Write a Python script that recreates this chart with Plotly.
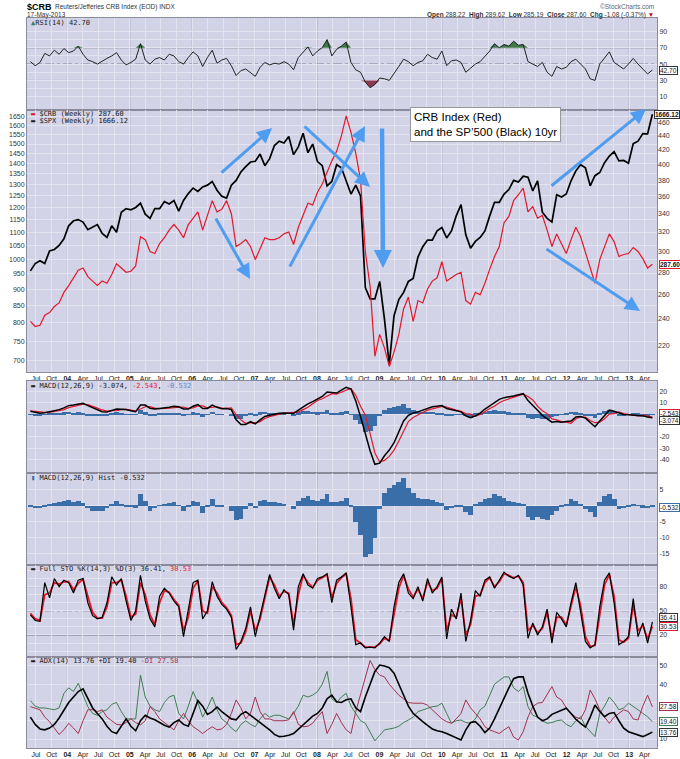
import numpy as np
import pandas as pd
import plotly.graph_objects as go

# ---------------- data: 4-weekly samples ----------------
dates = pd.date_range("2003-05-30", periods=131, freq="28D")

spx = [960, 985, 995, 985, 1030, 1035, 1050, 1075,
       1125, 1145, 1150, 1140, 1110, 1120, 1130, 1095, 1080, 1125, 1100, 1180, 1195,
       1190, 1200, 1218, 1172, 1155, 1195, 1195, 1225, 1215, 1230, 1185, 1230, 1260,
       1285, 1270, 1290, 1298, 1315, 1275, 1248, 1240, 1298, 1320, 1360, 1385, 1408,
       1412, 1448, 1390, 1425, 1492, 1515, 1505, 1540, 1445, 1485, 1558, 1455, 1500,
       1410, 1390, 1295, 1315, 1395, 1380, 1320, 1258, 1298, 1250, 905, 870, 870,
       925, 810, 690, 820, 868, 890, 925, 935, 1008, 1045, 1070, 1070, 1105,
       1118, 1078, 1105, 1165, 1212, 1090, 1040, 1065, 1080, 1105, 1165, 1222, 1222, 1258,
       1278, 1320, 1312, 1340, 1335, 1272, 1318, 1180, 1155, 1140, 1255, 1245, 1258,
       1318, 1365, 1395, 1380, 1295, 1342, 1357, 1405, 1438, 1460, 1414, 1416, 1402,
       1502, 1515, 1556, 1555, 1666.12]

crb = [238, 234, 235, 243, 245, 250, 253, 262,
       268, 275, 282, 284, 276, 272, 268, 272, 270, 278, 288, 284, 280,
       281, 286, 315, 312, 300, 298, 308, 314, 322, 328, 322, 314, 328,
       335, 342, 322, 338, 355, 342, 345, 355, 340, 305, 308, 312, 305,
       292, 302, 314, 312, 312, 314, 318, 320, 307, 325, 338, 352, 350,
       365, 375, 390, 405, 418, 440, 470, 445, 415, 380, 300, 267, 212,
       228, 218, 205, 215, 228, 248, 258, 238, 255, 253, 265, 272, 275,
       290, 272, 275, 278, 280, 255, 252, 262, 260, 270, 283, 295, 305, 330,
       337, 355, 362, 370, 342, 348, 335, 338, 322, 305, 318, 308, 298,
       312, 325, 315, 300, 285, 270, 292, 305, 318, 310, 295, 297, 298,
       304, 300, 293, 284, 287.60]

rsi = [53, 48, 52, 63, 60, 67, 62, 69,
       64, 66, 72, 62, 55, 53, 50, 54, 57, 60, 64, 55, 49,
       52, 56, 75, 55, 50, 56, 58, 55, 62, 60, 53, 50, 58,
       65, 60, 47, 58, 67, 51, 55, 57, 48, 36, 42, 44, 40,
       35, 46, 52, 49, 51, 50, 53, 50, 43, 58, 65, 71, 60,
       66, 70, 80, 60, 68, 72, 77, 52, 43, 40, 28, 21, 25,
       33, 32, 30, 38, 47, 56, 53, 48, 52, 54, 62, 58, 56,
       66, 48, 54, 55, 52, 40, 45, 50, 53, 60, 66, 75, 70, 74,
       72, 78, 73, 74, 53, 50, 47, 52, 40, 35, 47, 44, 46,
       53, 56, 50, 44, 32, 30, 50, 58, 65, 52, 48, 44, 50,
       57, 50, 44, 38, 42.70]

macd = [2.5, 1.5, 0.8, 1.2, 2.0, 3.0, 4.0, 5.5,
        7.5, 8.0, 9.0, 9.5, 7.5, 5.5, 3.5, 2.2, 2.0, 3.5, 4.5, 4.3, 4.0,
        3.0, 2.2, 8.0, 8.0, 5.2, 4.5, 5.0, 5.2, 6.0, 7.0, 6.5, 4.5, 4.5,
        7.0, 8.5, 5.0, 5.0, 8.0, 6.0, 4.8, 5.0, 4.0, -5.0, -9.0, -9.0, -6.6,
        -8.5, -5.0, -2.0, -1.0, 0.0, 0.8, 1.0, 1.0, 0.5, 3.5, 6.5, 9.0, 11.0,
        13.5, 15.5, 19.5, 19.0, 18.5, 21.0, 23.5, 22.0, 11.5, -2.0, -17.0, -32.0, -44.0,
        -43.0, -36.5, -31.5, -25.0, -16.0, -6.0, -1.0, 1.0, 2.0, 3.5, 5.5, 6.5, 7.0,
        7.5, 5.0, 4.0, 3.0, 2.0, -1.5, -3.0, -1.5, 1.0, 4.5, 7.5, 10.5, 13.0, 14.5,
        15.0, 16.0, 17.0, 18.0, 12.0, 8.0, 3.5, -1.0, -4.0, -7.0, -6.5, -7.0, -6.5,
        -6.0, -2.5, -2.0, -3.5, -7.5, -11.0, -6.0, -1.0, 3.5, 2.5, 1.0, -0.2, -0.5,
        -0.8, -1.2, -1.5, -2.5, -3.074]

macd_signal = [3.0, 2.3, 1.6, 1.5, 1.5, 2.2, 3.0, 4.0,
               5.7, 6.8, 7.5, 8.7, 8.3, 7.0, 5.3, 3.7, 2.8, 3.0, 3.0, 4.0, 4.2,
               3.5, 2.8, 4.5, 6.5, 6.7, 5.3, 4.8, 4.9, 5.2, 5.8, 6.3, 6.3, 5.0,
               5.5, 7.3, 7.2, 5.5, 5.8, 6.5, 5.3, 5.0, 5.5, -0.5, -5.0, -8.0, -7.4,
               -7.7, -6.5, -3.8, -2.2, -1.0, 0.0, 0.7, 1.0, 1.5, 2.0, 4.0, 6.0, 9.2,
               12.0, 13.5, 16.0, 18.0, 17.5, 19.5, 21.0, 22.5, 16.5, 7.0, -1.0, -17.0, -34.0,
               -42.0, -40.5, -37.0, -31.5, -23.5, -14.5, -6.5, -2.9, -0.5, 1.5, 3.5, 4.7, 5.8,
               6.7, 6.3, 4.8, 3.5, 2.5, 0.5, 0.0, -2.0, -0.2, 2.5, 5.0, 7.0, 10.0, 12.0,
               13.5, 15.0, 16.2, 17.5, 15.5, 12.5, 7.0, 3.0, 0.5, -4.2, -5.0, -6.5, -7.0,
               -8.0, -4.0, -2.5, -2.5, -5.5, -7.5, -7.0, -4.0, 0.0, 0.5, 2.0, 0.6, -0.1,
               -1.1, -1.4, -0.9, -1.7, -2.543]

macd_hist = [-0.5, -0.8, -0.8, -0.3, 0.5, 0.8, 1.0, 1.5,
             1.8, 1.2, 1.5, 0.8, -0.8, -1.5, -1.8, -1.5, -0.8, 0.5, 1.5, 0.3, -0.2,
             -0.5, -0.6, 3.5, 1.5, -1.5, -0.8, 0.2, 0.3, 0.8, 1.2, 0.2, -1.8, -0.5,
             1.5, 1.2, -2.2, -0.5, 2.2, -0.5, -0.5, 0.0, -1.5, -4.5, -4.0, -1.0, 0.8,
             -0.8, 1.5, 1.8, 1.2, 1.0, 0.8, 0.3, 0.0, -1.0, 1.5, 2.5, 3.0, 1.8,
             1.5, 2.0, 3.5, 1.0, 1.0, 1.5, 2.5, -0.5, -5.0, -9.0, -16.0, -15.0, -10.0,
             -1.0, 4.0, 5.5, 6.5, 7.5, 8.5, 5.5, 3.9, 2.5, 2.0, 2.0, 1.8, 1.2,
             0.8, -1.3, -0.8, -0.5, -0.5, -2.0, -3.0, 0.5, 1.2, 2.0, 2.5, 3.5, 3.0, 2.5,
             1.5, 1.0, 0.8, 0.5, -3.5, -4.5, -3.5, -4.0, -4.5, -2.8, -1.5, -0.5, 0.5,
             2.0, 1.5, 0.5, -1.0, -2.0, -3.5, 1.0, 3.0, 3.5, 2.0, -1.0, -0.8, -0.4,
             0.3, 0.2, -0.6, -0.8, -0.532]

sto_k = [45, 38, 37, 85, 66, 90, 80, 88,
         85, 72, 88, 90, 60, 44, 40, 42, 60, 92, 82, 90, 62,
         38, 50, 94, 62, 40, 30, 68, 78, 72, 62, 55, 18, 50,
         85, 88, 40, 50, 86, 68, 58, 52, 42, 2, 12, 28, 55,
         18, 45, 72, 95, 78, 65, 76, 70, 26, 80, 96, 82, 78,
         90, 92, 96, 60, 88, 92, 97, 55, 8, 10, 4, 5, 4,
         10, 18, 12, 55, 85, 96, 72, 65, 80, 62, 90, 72, 80,
         92, 15, 52, 40, 72, 12, 38, 75, 68, 88, 92, 78, 88, 98,
         93, 90, 94, 82, 16, 35, 20, 30, 52, 10, 48, 40, 30,
         60, 85, 50, 12, 4, 8, 55, 88, 97, 60, 8, 12, 18,
         65, 18, 35, 10, 36.41]

sto_d = [47, 40, 38, 70, 72, 85, 83, 86,
         86, 76, 84, 89, 68, 48, 41, 41, 55, 85, 85, 88, 68,
         42, 46, 85, 70, 45, 33, 60, 75, 73, 64, 57, 25, 42,
         78, 87, 50, 47, 80, 72, 60, 54, 44, 8, 10, 24, 50,
         25, 40, 66, 92, 82, 68, 74, 72, 32, 70, 94, 85, 79,
         88, 91, 95, 66, 84, 91, 96, 65, 14, 10, 5, 5, 5,
         9, 16, 13, 45, 78, 94, 77, 67, 77, 65, 86, 75, 78,
         90, 25, 45, 42, 66, 20, 33, 68, 70, 85, 91, 80, 86, 96,
         94, 91, 93, 85, 25, 32, 23, 28, 48, 16, 42, 42, 32,
         55, 80, 56, 18, 6, 7, 45, 82, 95, 68, 14, 11, 16,
         58, 25, 32, 15, 30.53]

adx = [22, 18, 15.5, 15, 16, 18, 21.5, 26,
       30, 33, 36, 37.5, 32, 27, 24, 21, 17, 14, 13, 17, 21,
       17, 14.5, 20, 23, 21.5, 20.5, 19, 17.5, 16.5, 19, 20.4, 18, 17,
       24, 31, 28, 23.5, 25, 27.5, 25, 23, 21, 20.5, 23.5, 25, 23,
       21.5, 19, 17.5, 15, 12.5, 11.3, 11.5, 12, 13, 15.5, 17.7, 20, 22.5,
       24, 27, 32, 34, 30.4, 30, 31.5, 32, 27, 25, 33, 40, 47,
       50.5, 50, 49, 46, 40, 34, 28, 24, 21.5, 19.5, 17.5, 15.5, 14.5,
       14, 13, 11.8, 10.5, 9.5, 15, 19, 19.5, 17, 13.5, 16, 21, 27, 33,
       38, 43, 44, 44, 35, 28, 22, 20, 21, 23.5, 24.5, 25.5, 26.8,
       24, 20.8, 18.5, 16.5, 22, 28.6, 25, 22.2, 24, 24.5, 20, 15.9, 14,
       13, 12, 11.3, 12.5, 13.76]

plus_di = [31, 28, 27, 27, 26.5, 26, 27, 35,
           38, 36, 40.5, 34, 27.7, 24, 23, 25, 26, 29, 30, 25, 21,
           21, 21, 45, 33, 28, 26, 25, 30, 33, 34, 24, 21, 28,
           36, 30, 22, 27, 33, 26, 21, 19, 16, 14, 18, 20, 18,
           16.7, 21, 24, 22, 23, 23, 22, 21, 24, 28, 34, 33, 34,
           36, 40, 47, 32, 30, 33, 35, 28, 24, 20, 18.6, 14, 9,
           12, 15, 15.5, 16, 17, 19, 20.4, 22, 25, 26, 27, 27.7, 28,
           29.6, 24, 18.6, 20, 20.4, 19, 18.6, 21, 26, 28, 34, 40, 42, 44,
           44, 38, 36, 38.7, 27.7, 23, 22, 20, 18.6, 19, 20, 20.4, 18,
           16.7, 20, 22.2, 17, 14, 11.3, 24, 28, 33, 30, 26, 27, 29.6,
           28, 26, 24, 22.2, 19.40]

minus_di = [27.7, 27, 26, 22, 19.5, 16, 12.5, 15,
            18.6, 16, 13, 20, 26, 26, 25, 26, 22, 20, 18, 17.7, 19,
            21, 19, 17.7, 20, 27.7, 25, 21, 19, 17, 15, 20, 24, 20,
            16.7, 15, 13, 15, 16.7, 15, 15.5, 18, 24, 31.4, 27, 21, 24,
            33, 25, 21, 21, 20, 20, 20, 20.5, 25, 18, 16.7, 17, 18.6,
            22, 25, 13, 18, 24, 19, 15, 13, 25, 34, 44, 53, 48,
            45, 44, 40, 37, 34, 32, 30, 29.6, 29.6, 29.6, 28.5, 26, 23,
            21, 19.5, 18.6, 21, 24, 31.4, 27, 24, 21, 16.7, 15, 14, 13, 15,
            16.7, 11, 9.5, 14, 22, 27.7, 29.6, 30, 34, 38.7, 33, 31.4, 27,
            24, 22, 21, 26, 36.8, 32, 26, 22, 18.6, 22, 24, 26, 25,
            21, 20.4, 28, 34, 27.58]

spx_ticks = list(range(700, 1651, 50))
crb_ticks = list(range(220, 461, 20))

# ---------------- geometry / style ----------------
W, H = 680, 759
L, R, T, B = 27, 657, 18, 748


def fx(px):
    return (px - L) / (R - L)


def fy(py):
    return (B - py) / (B - T)


BG = "#d3d3e7"
GRID = "#e4e4f0"
YEARLINE = "#a6a6be"
BORDER = "#8a8a9a"
RED = "#e3182b"
HBLUE = "#3a6ea8"
GREEN = "#3e7e52"
MAROON = "#a3304f"
ARROW = "#4f9df0"
MONO = "DejaVu Sans Mono, monospace"
SANS = "Liberation Sans, Arial, sans-serif"

panels = {"rsi": (18, 110), "price": (110, 372), "macd": (381, 473),
          "hist": (473, 565), "sto": (565, 657), "adx": (657, 748)}


def ydom(key):
    top, bot = panels[key]
    return [fy(bot), fy(top)]


quarters = pd.date_range("2003-07-01", "2013-04-01", freq="QS")
qlabels = [f"<b>{d.year % 100:02d}</b>" if d.month == 1 else d.strftime("%b") for d in quarters]
years = pd.date_range("2004-01-01", "2013-01-01", freq="YS")
xr = ["2003-05-10", "2013-06-13"]

layout = dict(
    width=W, height=H,
    margin=dict(l=L, r=W - R, t=T, b=H - B, autoexpand=False),
    paper_bgcolor="white", plot_bgcolor=BG, showlegend=False,
    font=dict(family=SANS, size=7, color="#222"),
    bargap=0,
)

xnames = ["x", "x2", "x3", "x4", "x5", "x6"]
ynames = ["y", "y2", "y4", "y5", "y6", "y7"]
keys = ["rsi", "price", "macd", "hist", "sto", "adx"]

for xn, yn, key in zip(xnames, ynames, keys):
    axk = "xaxis" + xn[1:]
    d = dict(domain=[0, 1], anchor=yn, range=xr, type="date",
             tickvals=quarters, ticktext=qlabels,
             showticklabels=key in ("price", "adx"), ticks="",
             showgrid=True, gridcolor=GRID, gridwidth=1,
             showline=True, mirror=True, linecolor=BORDER, linewidth=1,
             zeroline=False, tickfont=dict(size=7, color="#222", family=SANS),
             fixedrange=True)
    if xn != "x":
        d["matches"] = "x"
    layout[axk] = d

common = dict(showline=True, mirror=True, linecolor=BORDER, linewidth=1,
              zeroline=False, ticks="", gridcolor=GRID, gridwidth=1,
              tickfont=dict(size=7, color="#333", family=SANS), fixedrange=True)


def lab(vals, shown):
    return [str(v) if v in shown else "" for v in vals]


rsi_t = list(range(10, 100, 10))
layout["yaxis"] = dict(domain=ydom("rsi"), anchor="x", side="right",
                       range=[-6.2, 106.4], tickvals=rsi_t,
                       ticktext=lab(rsi_t, (10, 30, 50, 70, 90)), **common)
layout["yaxis2"] = dict(domain=ydom("price"), anchor="x2", side="left", type="log",
                        range=[2.8278, 3.2281], tickvals=spx_ticks,
                        ticktext=[str(v) for v in spx_ticks], **common)
layout["yaxis3"] = dict(overlaying="y2", anchor="x2", side="right", type="log",
                        range=[2.3038, 2.6806], tickvals=crb_ticks,
                        ticktext=[str(v) for v in crb_ticks], showgrid=False,
                        showline=False, zeroline=False, ticks="",
                        tickfont=dict(size=7, color="#333", family=SANS), fixedrange=True)
macd_t = [-40, -30, -20, -10, 0, 10, 20]
layout["yaxis4"] = dict(domain=ydom("macd"), anchor="x3", side="right",
                        range=[-51.6, 29.1], tickvals=macd_t,
                        ticktext=lab(macd_t, (-40, -30, -20, 10, 20)), **common)
hist_t = [-15, -10, -5, 0, 5]
layout["yaxis5"] = dict(domain=ydom("hist"), anchor="x4", side="right",
                        range=[-18.5, 10.2], tickvals=hist_t,
                        ticktext=lab(hist_t, (-15, -10, -5, 5)), **common)
sto_t = list(range(0, 101, 10))
layout["yaxis6"] = dict(domain=ydom("sto"), anchor="x5", side="right",
                        range=[-7.3, 106.8], tickvals=sto_t,
                        ticktext=lab(sto_t, (20, 50, 80)), **common)
adx_t = [10, 20, 30, 40, 50]
layout["yaxis7"] = dict(domain=ydom("adx"), anchor="x6", side="right",
                        range=[5.07, 54.9], tickvals=adx_t,
                        ticktext=lab(adx_t, (10, 40, 50)), **common)

# ---------------- shapes ----------------
shapes = []
for xn, yn in zip(xnames, ynames):
    for d in years:
        shapes.append(dict(type="line", xref=xn, yref=f"{yn} domain", x0=d, x1=d,
                           y0=0, y1=1, line=dict(color=YEARLINE, width=1), layer="below"))
for xn, yref, lv in (("x", "y", (70, 30)), ("x5", "y6", (80, 20))):
    for v in lv:
        shapes.append(dict(type="line", xref=f"{xn} domain", yref=yref, x0=0, x1=1, y0=v, y1=v,
                           line=dict(color="#707080", width=1), layer="below"))
    shapes.append(dict(type="line", xref=f"{xn} domain", yref=yref, x0=0, x1=1, y0=50, y1=50,
                       line=dict(color="#707080", width=1, dash="dashdot"), layer="below"))
layout["shapes"] = shapes

# ---------------- traces ----------------
fig = go.Figure()
n = len(dates)
BARW = 28 * 86400000

# RSI with shaded overbought / oversold zones
fig.add_trace(go.Scatter(x=dates, y=[70] * n, xaxis="x", yaxis="y", mode="lines",
                         line=dict(width=0), hoverinfo="skip"))
fig.add_trace(go.Scatter(x=dates, y=np.maximum(rsi, 70), xaxis="x", yaxis="y", mode="lines",
                         line=dict(width=0), fill="tonexty", fillcolor="#3d7a45", hoverinfo="skip"))
fig.add_trace(go.Scatter(x=dates, y=[30] * n, xaxis="x", yaxis="y", mode="lines",
                         line=dict(width=0), hoverinfo="skip"))
fig.add_trace(go.Scatter(x=dates, y=np.minimum(rsi, 30), xaxis="x", yaxis="y", mode="lines",
                         line=dict(width=0), fill="tonexty", fillcolor="#8b3a50", hoverinfo="skip"))
fig.add_trace(go.Scatter(x=dates, y=rsi, xaxis="x", yaxis="y", mode="lines",
                         line=dict(color="#222", width=1)))

# price panel
fig.add_trace(go.Scatter(x=dates, y=crb, xaxis="x2", yaxis="y3", mode="lines",
                         line=dict(color=RED, width=1.2)))
fig.add_trace(go.Scatter(x=dates, y=spx, xaxis="x2", yaxis="y2", mode="lines",
                         line=dict(color="#000", width=1.7)))

# MACD
fig.add_trace(go.Bar(x=dates, y=macd_hist, xaxis="x3", yaxis="y4", width=BARW,
                     marker=dict(color=HBLUE, line=dict(width=0))))
fig.add_trace(go.Scatter(x=dates, y=macd_signal, xaxis="x3", yaxis="y4", mode="lines",
                         line=dict(color=RED, width=1.2)))
fig.add_trace(go.Scatter(x=dates, y=macd, xaxis="x3", yaxis="y4", mode="lines",
                         line=dict(color="#000", width=1.5)))

# MACD histogram
fig.add_trace(go.Bar(x=dates, y=macd_hist, xaxis="x4", yaxis="y5", width=BARW,
                     marker=dict(color=HBLUE, line=dict(width=0))))

# Full stochastics
fig.add_trace(go.Scatter(x=dates, y=sto_d, xaxis="x5", yaxis="y6", mode="lines",
                         line=dict(color=RED, width=1.8)))
fig.add_trace(go.Scatter(x=dates, y=sto_k, xaxis="x5", yaxis="y6", mode="lines",
                         line=dict(color="#000", width=1.2)))

# ADX
fig.add_trace(go.Scatter(x=dates, y=plus_di, xaxis="x6", yaxis="y7", mode="lines",
                         line=dict(color=GREEN, width=1)))
fig.add_trace(go.Scatter(x=dates, y=minus_di, xaxis="x6", yaxis="y7", mode="lines",
                         line=dict(color=MAROON, width=1)))
fig.add_trace(go.Scatter(x=dates, y=adx, xaxis="x6", yaxis="y7", mode="lines",
                         line=dict(color="#000", width=1.6)))

# ---------------- annotations ----------------
ann = []


def text(px, py, s, size=7, family=MONO, color="#222", xanchor="left", yanchor="middle"):
    ann.append(dict(xref="paper", yref="paper", x=fx(px), y=fy(py), text=s, showarrow=False,
                    xanchor=xanchor, yanchor=yanchor, font=dict(size=size, family=family, color=color)))


# header
text(25, 7, "<b>$CRB</b>", size=9, family=SANS, color="#000")
text(53, 7, "Reuters/Jefferies CRB Index (EOD) INDX", size=6.5, family=SANS, color="#333")
text(25, 15, "17-May-2013", size=6.5, family=SANS, color="#333")
text(656, 6, "\u00a9StockCharts.com", size=6.5, family=SANS, color="#666", xanchor="right")
text(656, 15, "<b>Open</b> 288.22  <b>High</b> 289.62  <b>Low</b> 285.19  <b>Close</b> 287.60  "
              "<b>Chg</b> -1.08 (-0.37%) <span style='color:#c0102a'>\u25bc</span>",
     size=6.5, family=SANS, color="#333", xanchor="right")

# panel labels
text(29, 23, f"<span style='color:{GREEN}'>\u25b2</span>RSI(14) 42.70", size=7)
text(29, 114, f"<span style='color:{RED}'>\u25ac</span> $CRB (Weekly) 287.60", size=7)
text(29, 121, "\u25ac $SPX (Weekly) 1666.12", size=7)
text(29, 386, f"\u25ac MACD(12,26,9) -3.074, <span style='color:{RED}'>-2.543</span>, "
              f"<span style='color:#5a8ac8'>-0.532</span>", size=7)
text(29, 478, f"<span style='color:{HBLUE}'>\u25ae</span> MACD(12,26,9) Hist -0.532", size=7)
text(29, 569, f"\u25ac Full STO %K(14,3) %D(3) 36.41, <span style='color:{RED}'>30.53</span>", size=7)
text(29, 661, f"\u25ac ADX(14) 13.76 +DI 19.40 <span style='color:{MAROON}'>-DI 27.58</span>", size=7)

# commentary box
ann.append(dict(xref="paper", yref="paper", x=fx(410), y=fy(107), xanchor="left", yanchor="top",
                text="CRB Index (Red)<br>and the SP\u2019500 (Black) 10yr", showarrow=False, align="left",
                font=dict(size=11.5, family=SANS, color="#000"), bgcolor="white",
                bordercolor="#999", borderwidth=1, borderpad=3))


def vbox(yref, y, s, color, yshift=0, bold=False, right=False):
    ann.append(dict(xref="paper", yref=yref, x=fx(679.5) if right else 1.0, y=y,
                    xanchor="right" if right else "left", yanchor="middle",
                    xshift=0 if right else 2, yshift=yshift,
                    text=f"<b>{s}</b>" if bold else s, showarrow=False,
                    font=dict(size=6.5, family=SANS, color="#111"), bgcolor="white",
                    bordercolor=color, borderwidth=1, borderpad=0))


vbox("y", 42.70, "42.70", "#333")
vbox("y2", np.log10(1666.12), "1666.12", "#333", bold=True, right=True)
vbox("y3", np.log10(287.60), "287.60", RED, bold=True)
vbox("y4", -2.543, "-2.543", RED, yshift=4)
vbox("y4", -3.074, "-3.074", "#333", yshift=-3)
vbox("y5", -0.532, "-0.532", HBLUE)
vbox("y6", 36.41, "36.41", "#333", yshift=4)
vbox("y6", 30.53, "30.53", RED, yshift=0)
vbox("y7", 27.58, "27.58", MAROON)
vbox("y7", 19.40, "19.40", GREEN)
vbox("y7", 13.76, "13.76", "#333")

# blue trend arrows (tail x, tail y, head x, head y, width) in pixels
arrows = [(220, 174, 272, 128, 3), (215, 217, 250, 279, 3), (289, 268, 365, 126, 3),
          (303, 125, 370, 187, 3), (382, 127, 383, 268, 4.5), (550, 187, 646, 109, 3),
          (545, 248, 640, 311, 3)]
for tx, ty, hx, hy, w in arrows:
    ann.append(dict(xref="paper", yref="paper", x=fx(hx), y=fy(hy), ax=tx - hx, ay=ty - hy,
                    text="", showarrow=True, arrowhead=2, arrowsize=1 if w < 4 else 0.8,
                    arrowwidth=w, arrowcolor=ARROW))

layout["annotations"] = ann
fig.update_layout(**layout)
fig.write_html("out.html")
